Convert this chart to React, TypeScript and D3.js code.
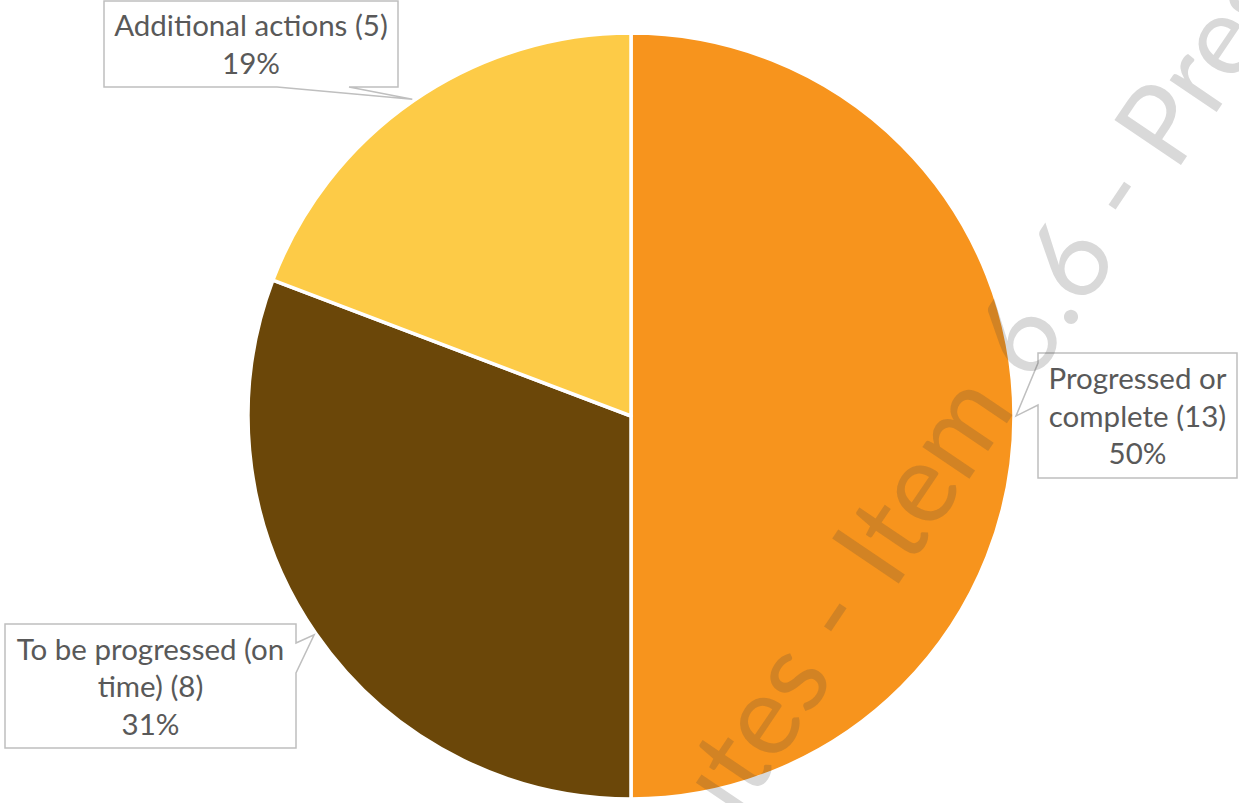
import React, { useRef, useEffect } from 'react';
import * as d3 from 'd3';

const categories = ["Progressed or complete", "To be progressed (on time)", "Additional actions"];
const counts = [13, 8, 5];
const colors = ["#F7941D", "#6B4709", "#FDCB47"];
// manual line breaks for each label, as in the original callouts
const labelLines = [
  ["Progressed or", "complete (13)"],
  ["To be progressed (on", "time) (8)"],
  ["Additional actions (5)"],
];

const W = 1239;
const H = 803;

type Callout = { x: number; y: number; w: number; h: number; side: 'left' | 'right' | 'bottom'; a: number; b: number };

// callout boxes (layout only)
const callouts: Callout[] = [
  { x: 1038, y: 353, w: 199, h: 125, side: 'left', a: 363, b: 405 },
  { x: 5, y: 624, w: 291, h: 124, side: 'right', a: 643, b: 673 },
  { x: 104, y: 1, w: 294, h: 86, side: 'bottom', a: 277, b: 349 },
];

const App: React.FC = () => {
  const svgRef = useRef<SVGSVGElement>(null);

  useEffect(() => {
    document.body.style.margin = "0";
    if (!svgRef.current) return;
    const svg = d3.select(svgRef.current);
    svg.selectAll("*").remove();
    svg.attr("width", W).attr("height", H);

    const cx = 631, cy = 416, r = 383;
    const total = d3.sum(counts);
    const pct = d3.format(".0%");

    const pie = d3.pie<number>().sort(null).value(d => d);
    const arcs = pie(counts);
    const arc = d3.arc<d3.PieArcDatum<number>>().innerRadius(0).outerRadius(r);

    const g = svg.append("g").attr("transform", `translate(${cx},${cy})`);
    g.selectAll("path.slice")
      .data(arcs)
      .enter().append("path")
      .attr("class", "slice")
      .attr("d", arc)
      .attr("fill", (d, i) => colors[i])
      .attr("stroke", "#fff")
      .attr("stroke-width", 3.5)
      .attr("stroke-linejoin", "round");

    const font = "Lato, 'Open Sans', sans-serif";

    arcs.forEach((d, i) => {
      const c = callouts[i];
      const mid = (d.startAngle + d.endAngle) / 2;
      const tipR = r + 2;
      const tx = cx + Math.sin(mid) * tipR;
      const ty = cy - Math.cos(mid) * tipR;
      const { x, y, w, h } = c;
      let p = "";
      if (c.side === 'left') {
        p = `M${x},${y}H${x + w}V${y + h}H${x}V${c.b}L${tx},${ty}L${x},${c.a}Z`;
      } else if (c.side === 'right') {
        p = `M${x},${y}H${x + w}V${c.a}L${tx},${ty}L${x + w},${c.b}V${y + h}H${x}Z`;
      } else {
        p = `M${x},${y}H${x + w}V${y + h}H${c.b}L${tx},${ty}L${c.a},${y + h}H${x}Z`;
      }
      svg.append("path")
        .attr("d", p)
        .attr("fill", "#fff")
        .attr("stroke", "#BFBFBF")
        .attr("stroke-width", 1.5);

      const lines = [...labelLines[i], pct(counts[i] / total)];
      const lh = 37.5;
      const firstBase = y + h / 2 - (lines.length - 1) * lh / 2 + 11;
      const t = svg.append("text")
        .attr("text-anchor", "middle")
        .attr("font-family", font)
        .attr("font-size", 29.5)
        .attr("fill", "#595959");
      lines.forEach((ln, j) => {
        t.append("tspan")
          .attr("x", x + w / 2)
          .attr("y", firstBase + j * lh)
          .text(ln);
      });
    });

    // watermark
    const wx = 893, wy = 592, rot = -56;
    const wm = svg.append("g")
      .attr("transform", `translate(${wx},${wy}) rotate(${rot})`)
      .attr("fill", "#404040")
      .attr("fill-opacity", 0.2)
      .attr("font-family", font)
      .attr("font-size", 112);
    wm.append("text").attr("text-anchor", "start").text("Item 6.6 - Presented");
    wm.append("text").attr("text-anchor", "end").attr("x", -4).text("Minutes -\u00A0");
  }, []);

  return <svg ref={svgRef}></svg>;
};

export default App;
